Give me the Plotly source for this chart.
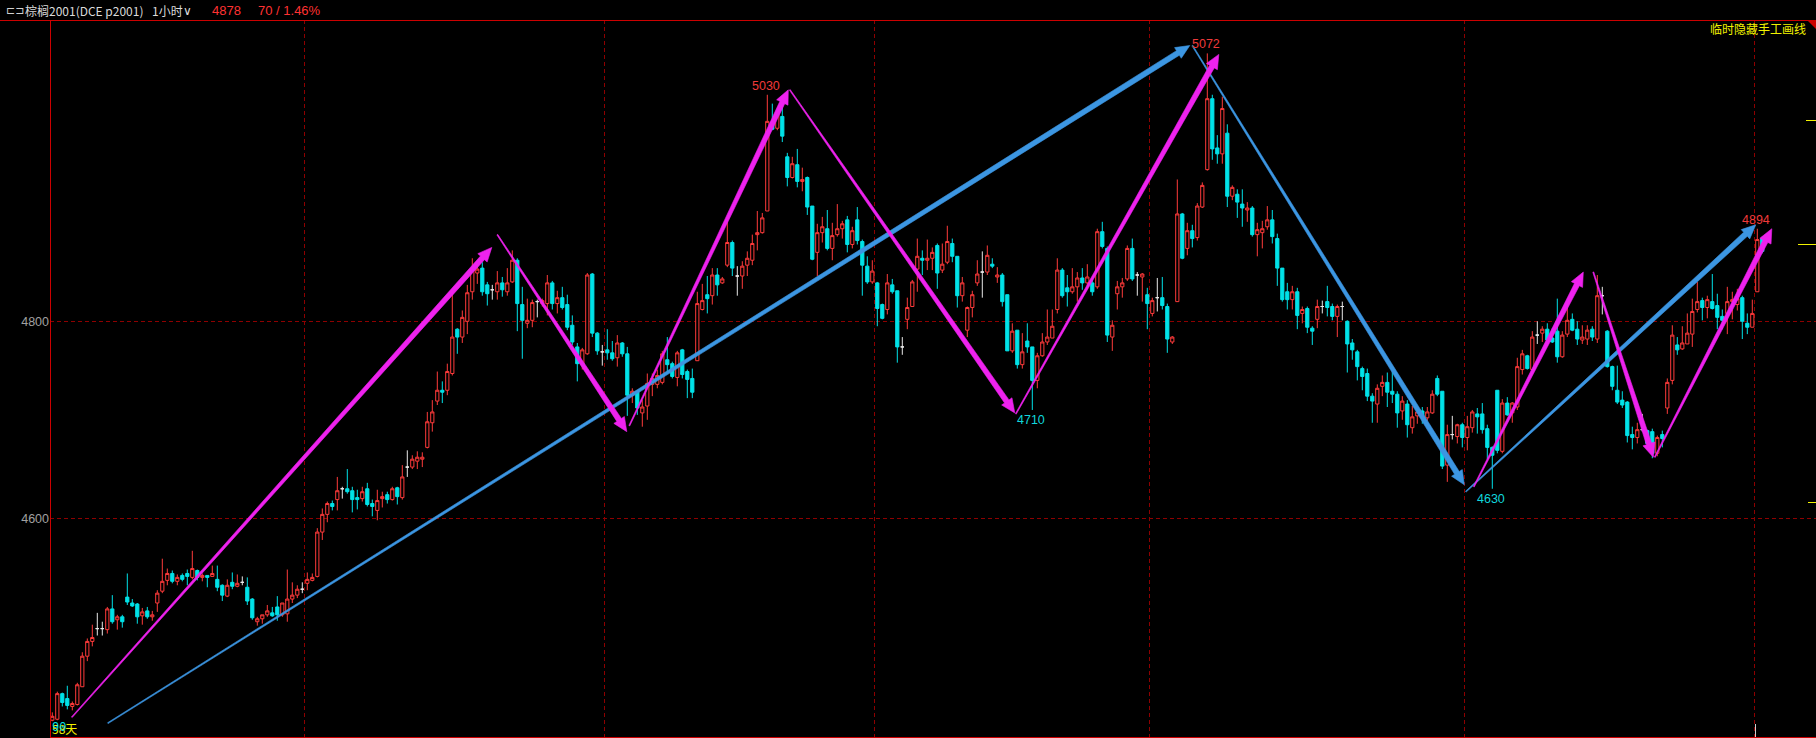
import math
import plotly.graph_objects as go

# ---------------- data ----------------
open_ = [4395,4396,4422,4417,4409,4411,4429,4460,4475,4488,4488,4487,4508,4497,4500,4520,4514,4513,4501,4506,
         4500,4514,4526,4537,4544,4536,4542,4544,4540,4547,4540,4542,4541,4538,4532,4521,4535,4531,4535,4530,
         4518,4495,4498,4502,4504,4510,4502,4503,4518,4522,4528,4534,4537,4541,4586,4604,4615,4619,4630,4630,
         4628,4621,4620,4630,4615,4608,4620,4624,4619,4631,4621,4652,4652,4658,4660,4672,4697,4719,4730,4730,
         4747,4792,4784,4800,4830,4849,4854,4837,4832,4830,4839,4830,4840,4862,4817,4798,4801,4820,4818,4818,
         4839,4818,4824,4817,4796,4774,4756,4767,4848,4788,4769,4771,4768,4763,4778,4767,4725,4729,4707,4714,
         4736,4736,4738,4761,4757,4743,4771,4749,4742,4760,4812,4827,4826,4847,4839,4857,4880,4846,4846,4857,
         4862,4888,4890,4912,5002,4996,5008,4967,4946,4959,4942,4946,4917,4870,4890,4894,4874,4888,4894,4903,
         4878,4903,4881,4856,4840,4839,4817,4812,4837,4831,4774,4802,4815,4853,4864,4862,4864,4877,4852,4860,
         4879,4866,4826,4791,4814,4839,4850,4850,4858,4845,4847,4827,4770,4791,4756,4780,4774,4740,4765,4779,
         4783,4812,4852,4834,4830,4835,4844,4839,4839,4835,4891,4874,4784,4828,4835,4843,4874,4847,4845,4827,
         4808,4824,4824,4815,4779,4820,4909,4874,4892,4885,4916,4954,5026,4976,4970,4991,4927,4929,4919,4913,
         4915,4888,4890,4896,4903,4884,4854,4830,4822,4830,4808,4813,4793,4802,4815,4820,4815,4805,4815,4800,
         4778,4769,4752,4747,4724,4716,4734,4738,4729,4726,4709,4716,4692,4704,4709,4702,4707,4742,4729,4654,
         4685,4683,4695,4682,4692,4706,4706,4691,4672,4730,4668,4717,4707,4713,4751,4765,4751,4786,4788,4792,
         4783,4790,4764,4787,4802,4792,4781,4782,4792,4782,4826,4790,4754,4730,4720,4718,4685,4682,4690,4689,
         4688,4666,4685,4712,4740,4776,4772,4777,4787,4812,4821,4814,4820,4816,4805,4808,4820,4817,4824,4798,
         4794,4830,4884]
high = [4403,4424,4423,4430,4414,4433,4464,4478,4492,4504,4495,4510,4522,4502,4502,4544,4518,4514,4509,4510,
        4506,4527,4559,4549,4547,4543,4544,4548,4567,4548,4544,4542,4552,4552,4533,4538,4545,4543,4541,4540,
        4519,4500,4502,4512,4510,4521,4514,4548,4535,4532,4535,4545,4544,4590,4610,4617,4618,4642,4632,4650,
        4632,4629,4632,4636,4619,4629,4627,4627,4632,4632,4654,4669,4664,4668,4667,4708,4720,4749,4739,4757,
        4828,4793,4811,4837,4864,4861,4860,4840,4837,4851,4845,4854,4872,4864,4835,4823,4822,4822,4823,4847,
        4841,4831,4835,4827,4806,4778,4773,4849,4849,4789,4776,4792,4780,4786,4779,4774,4732,4730,4720,4747,
        4747,4751,4770,4784,4759,4770,4772,4751,4752,4830,4838,4846,4854,4854,4845,4901,4882,4856,4861,4871,
        4888,4912,4910,5030,5021,5015,5018,4971,4967,4975,4956,4947,4917,4899,4906,4913,4900,4919,4902,4907,
        4896,4916,4883,4866,4862,4840,4818,4848,4843,4831,4784,4824,4842,4884,4872,4883,4875,4879,4879,4897,
        4884,4866,4845,4815,4831,4862,4871,4877,4864,4855,4849,4827,4798,4791,4788,4798,4774,4768,4788,4812,
        4812,4864,4854,4847,4854,4850,4854,4858,4842,4894,4901,4876,4801,4841,4844,4877,4884,4850,4849,4834,
        4824,4844,4845,4818,4785,4944,4910,4900,4898,4920,4941,5072,5030,4989,5028,5000,4938,4934,4934,4921,
        4917,4900,4902,4917,4913,4889,4854,4839,4836,4834,4815,4815,4795,4822,4821,4836,4818,4817,4820,4801,
        4782,4771,4754,4752,4727,4736,4745,4748,4749,4729,4724,4720,4714,4712,4713,4713,4730,4745,4729,4695,
        4704,4696,4697,4704,4710,4712,4717,4695,4673,4730,4721,4723,4718,4763,4771,4766,4790,4800,4795,4798,
        4793,4823,4790,4818,4808,4800,4796,4796,4795,4847,4835,4791,4755,4755,4729,4719,4693,4697,4706,4690,
        4691,4684,4689,4742,4796,4784,4795,4808,4823,4840,4824,4826,4848,4828,4812,4835,4830,4833,4826,4808,
        4822,4894,4886]
low = [4394,4395,4409,4406,4405,4410,4429,4455,4470,4481,4481,4483,4493,4487,4489,4512,4510,4493,4492,4498,
       4496,4505,4524,4532,4534,4532,4536,4532,4538,4537,4536,4530,4541,4526,4516,4520,4528,4530,4532,4512,
       4497,4491,4493,4500,4500,4496,4500,4495,4514,4519,4524,4527,4536,4540,4578,4596,4608,4608,4620,4625,
       4606,4609,4617,4612,4602,4598,4611,4615,4618,4614,4619,4642,4650,4650,4652,4671,4688,4715,4717,4725,
       4745,4767,4778,4787,4822,4838,4826,4816,4822,4822,4825,4826,4839,4790,4762,4793,4794,4804,4815,4806,
       4812,4808,4812,4791,4776,4739,4751,4766,4784,4766,4755,4761,4760,4754,4764,4704,4717,4705,4693,4700,
       4724,4732,4736,4747,4742,4734,4742,4722,4722,4760,4811,4808,4817,4826,4838,4855,4846,4826,4833,4846,
       4857,4872,4889,4912,4994,4994,4982,4937,4945,4936,4932,4908,4862,4846,4880,4872,4862,4886,4884,4870,
       4874,4878,4826,4838,4838,4795,4802,4807,4828,4758,4766,4792,4815,4830,4847,4852,4852,4833,4849,4858,
       4860,4814,4820,4784,4804,4836,4824,4847,4854,4839,4815,4770,4768,4752,4752,4768,4710,4732,4764,4776,
       4783,4808,4824,4815,4828,4820,4832,4835,4826,4833,4874,4779,4770,4812,4824,4841,4841,4826,4820,4792,
       4805,4810,4812,4768,4777,4820,4863,4867,4875,4882,4915,4953,4964,4960,4960,4916,4923,4905,4896,4901,
       4886,4866,4874,4893,4879,4836,4820,4812,4812,4792,4798,4788,4776,4793,4808,4805,4801,4784,4801,4748,
       4761,4740,4730,4719,4697,4697,4724,4713,4717,4692,4700,4682,4686,4696,4696,4699,4706,4724,4650,4637,
       4680,4676,4672,4669,4687,4686,4686,4660,4630,4666,4666,4704,4697,4710,4746,4751,4751,4777,4779,4777,
       4778,4758,4763,4784,4790,4776,4777,4776,4780,4778,4807,4753,4730,4716,4712,4677,4670,4676,4688,4670,
       4661,4663,4672,4706,4736,4766,4771,4777,4774,4809,4801,4803,4812,4792,4792,4787,4802,4811,4782,4787,
       4794,4830,4869]
close = [4399,4422,4413,4410,4412,4431,4460,4475,4479,4488,4488,4508,4495,4500,4495,4515,4511,4500,4505,4500,
         4502,4524,4536,4544,4536,4540,4538,4541,4549,4540,4542,4540,4544,4530,4522,4532,4531,4534,4535,4516,
         4499,4498,4502,4506,4501,4502,4514,4518,4522,4528,4528,4538,4540,4586,4604,4615,4612,4628,4630,4627,
         4619,4619,4627,4614,4612,4618,4622,4619,4630,4622,4642,4652,4660,4662,4662,4698,4708,4730,4728,4749,
         4784,4784,4804,4829,4853,4853,4830,4828,4832,4839,4832,4839,4862,4818,4801,4801,4819,4820,4821,4839,
         4818,4824,4814,4794,4779,4757,4771,4847,4788,4770,4769,4768,4762,4778,4767,4725,4729,4712,4713,4737,
         4742,4745,4767,4756,4744,4768,4746,4741,4728,4818,4821,4823,4847,4837,4843,4880,4854,4846,4856,4864,
         4879,4890,4905,5003,4995,5011,4988,4946,4960,4942,4944,4916,4863,4890,4896,4874,4887,4894,4899,4878,
         4892,4882,4857,4840,4851,4813,4803,4839,4830,4774,4774,4814,4840,4866,4862,4864,4870,4849,4858,4881,
         4866,4826,4839,4814,4827,4848,4850,4867,4856,4847,4820,4770,4790,4756,4769,4774,4740,4765,4779,4784,
         4795,4852,4826,4830,4835,4844,4839,4845,4830,4891,4876,4786,4796,4835,4839,4874,4843,4847,4848,4818,
         4821,4824,4816,4782,4784,4909,4864,4892,4884,4917,4938,5026,4975,4970,5016,4927,4936,4921,4915,4915,
         4888,4893,4894,4903,4886,4854,4822,4822,4830,4806,4812,4794,4790,4815,4815,4814,4805,4815,4815,4777,
         4771,4754,4744,4724,4719,4732,4738,4728,4726,4707,4719,4695,4703,4708,4703,4708,4726,4726,4653,4685,
         4685,4695,4682,4693,4708,4703,4690,4672,4664,4669,4717,4705,4717,4754,4767,4752,4784,4786,4792,4781,
         4779,4764,4786,4801,4791,4782,4784,4791,4784,4826,4826,4754,4734,4718,4715,4684,4682,4690,4690,4676,
         4666,4682,4681,4738,4786,4771,4778,4788,4810,4820,4814,4822,4813,4804,4801,4820,4822,4823,4800,4794,
         4808,4883,4871]

# first bar of each new session (vertical dashed separators)
session_starts = [51, 111, 165, 220, 283, 341]
price_ticks = [4600, 4800]

# hand-drawn tapered arrows: (bar0, price0, bar1, price1)
magenta_arrows = [(3.9, 4398, 87.9, 4875), (89.0, 4888, 114.9, 4688), (115.4, 4694, 147.2, 5035),
                  (147.5, 5035, 192.5, 4707), (192.7, 4706, 233.3, 5071), (284.3, 4632, 306.2, 4850),
                  (308.2, 4850, 320.2, 4662), (320.5, 4662, 343.9, 4894)]
blue_arrows = [(11.1, 4392, 227.5, 5080), (228.0, 5080, 282.4, 4634), (282.7, 4627, 340.7, 4898)]

# extreme-price labels: (bar, price, text, kind)
extreme_labels = [(143, 5030, "5030", "hi"), (231, 5072, "5072", "hi"), (341, 4894, "4894", "hi"),
                  (196, 4710, "4710", "lo"), (288, 4630, "4630", "lo")]

# ---------------- styling ----------------
RED = "#FF3B3B"
CYAN = "#00E2E8"
WHITE = "#E8E8E8"
MAG = "#EE22EE"
BLUE = "#3C96E2"
BORDER = "#CC0000"
GRID = "#8E0000"
YEL = "#F2F200"

W, H = 1816, 738
ML, MR, MT, MB = 50, 0, 20, 1
XR = [-0.46, 352.74]
YR = [4377.97, 5105.9]
PW, PH = W - ML - MR, H - MT - MB
sx = PW / (XR[1] - XR[0])
sy = PH / (YR[1] - YR[0])

fig = go.Figure()

idx = list(range(len(open_)))
nd = [i for i in idx if open_[i] != close[i]]
dj = [i for i in idx if open_[i] == close[i]]

fig.add_trace(go.Candlestick(
    x=nd, open=[open_[i] for i in nd], high=[high[i] for i in nd],
    low=[low[i] for i in nd], close=[close[i] for i in nd],
    increasing=dict(line=dict(color=RED, width=1), fillcolor="#000000"),
    decreasing=dict(line=dict(color=CYAN, width=1), fillcolor=CYAN),
    whiskerwidth=0, hoverinfo="skip", showlegend=False))
fig.add_trace(go.Candlestick(
    x=dj, open=[open_[i] for i in dj], high=[high[i] for i in dj],
    low=[low[i] for i in dj], close=[close[i] for i in dj],
    increasing=dict(line=dict(color=WHITE, width=1), fillcolor=WHITE),
    decreasing=dict(line=dict(color=WHITE, width=1), fillcolor=WHITE),
    whiskerwidth=0, hoverinfo="skip", showlegend=False))


def arrow_poly(a, w0=1.0, w1=5.4, hl=14.0, hw=6.3):
    x0, p0, x1, p1 = a
    X0, Y0, X1, Y1 = x0 * sx, -p0 * sy, x1 * sx, -p1 * sy
    dx, dy = X1 - X0, Y1 - Y0
    L = math.hypot(dx, dy)
    ux, uy = dx / L, dy / L
    nx, ny = -uy, ux
    bx, by = X1 - ux * hl, Y1 - uy * hl
    pts = [(X0 + nx * w0 / 2, Y0 + ny * w0 / 2), (bx + nx * w1 / 2, by + ny * w1 / 2),
           (bx + nx * hw, by + ny * hw), (X1, Y1), (bx - nx * hw, by - ny * hw),
           (bx - nx * w1 / 2, by - ny * w1 / 2), (X0 - nx * w0 / 2, Y0 - ny * w0 / 2)]
    pts.append(pts[0])
    return [p[0] / sx for p in pts], [-p[1] / sy for p in pts]


for arrows, col in ((blue_arrows, BLUE), (magenta_arrows, MAG)):
    for a in arrows:
        xs, ys = arrow_poly(a)
        fig.add_trace(go.Scatter(x=xs, y=ys, mode="lines", fill="toself", fillcolor=col,
                                 line=dict(color=col, width=0.6), hoverinfo="skip",
                                 showlegend=False))

anns = []
for b, p, t, kind in extreme_labels:
    if kind == "hi":
        anns.append(dict(x=b, y=p, text=t, showarrow=False, xanchor="center", yanchor="bottom",
                         yshift=0, xshift=-1, font=dict(color="#F03A3A", size=12.5, family="Liberation Sans")))
    else:
        anns.append(dict(x=b, y=p, text=t, showarrow=False, xanchor="center", yanchor="top",
                         yshift=-1, xshift=-1, font=dict(color="#10D6DC", size=12.5, family="Liberation Sans")))


def P(px, py):
    return (px - ML) / PW, (H - MB - py) / PH


def txt(px, py, s, col, size=11.5, anchor="left", fam="Noto Sans CJK SC"):
    x, y = P(px, py)
    anns.append(dict(xref="paper", yref="paper", x=x, y=y, text=s, showarrow=False,
                     xanchor=anchor, yanchor="middle", font=dict(color=col, size=size, family=fam)))


txt(4, 11, "⊏⊐", "#D0D0D0", 11, fam="DejaVu Sans")
txt(23, 11, "棕榈2001(DCE p2001)", "#DADADA", 12)
txt(150, 11, "1小时", "#DADADA", 12)
txt(181, 11, "∨", "#DADADA", 12, fam="DejaVu Sans")
txt(210, 11, "4878", "#FF3232", 13, fam="Liberation Sans")
txt(256, 11, "70 / 1.46%", "#FF3232", 13, fam="Liberation Sans")
txt(1808, 29, "临时隐藏手工画线", YEL, 12, anchor="right")
txt(50, 728, "58天", YEL, 12)
txt(50, 728, "90", CYAN, 12, fam="Liberation Mono")

shapes = []


def pline(x0, y0, x1, y1, col, w=1):
    a0, b0 = P(x0, y0)
    a1, b1 = P(x1, y1)
    shapes.append(dict(type="line", xref="paper", yref="paper", x0=a0, y0=b0, x1=a1, y1=b1,
                       line=dict(color=col, width=w), layer="above"))


pline(0, 20.5, W, 20.5, BORDER)
pline(50.5, 20, 50.5, 738, BORDER)
pline(50, 737.5, W, 737.5, BORDER)
pline(1806, 120.5, W, 120.5, YEL)
pline(1798, 244.5, W, 244.5, YEL)
pline(1808, 502.5, W, 502.5, YEL)
pline(1755.5, 724, 1755.5, 737, "#CFCFCF")
t0 = P(1807, 20)
t1 = P(W, 20)
t2 = P(W, 29)
shapes.append(dict(type="path", xref="paper", yref="paper",
                   path=f"M {t0[0]} {t0[1]} L {t1[0]} {t1[1]} L {t2[0]} {t2[1]} Z",
                   fillcolor=BORDER, line=dict(width=0), layer="above"))

fig.update_layout(
    width=W, height=H, margin=dict(l=ML, r=MR, t=MT, b=MB, pad=0),
    paper_bgcolor="#000000", plot_bgcolor="#000000", showlegend=False,
    annotations=anns, shapes=shapes, boxgap=0.2, boxgroupgap=0.2,
    xaxis=dict(range=XR, rangeslider=dict(visible=False), showticklabels=False, ticks="",
               tickvals=[s - 0.5 for s in session_starts], showgrid=True, gridcolor=GRID,
               griddash="4px,3px", gridwidth=1, zeroline=False, showline=False, fixedrange=True),
    yaxis=dict(range=YR, tickvals=price_ticks, ticktext=[str(v) for v in price_ticks],
               showgrid=True, gridcolor=GRID, griddash="4px,3px", gridwidth=1, ticks="",
               tickfont=dict(color="#A0A0A0", size=12.5, family="Liberation Sans"),
               zeroline=False, showline=False, fixedrange=True),
)

fig.write_html("out.html", config={"displayModeBar": False},
               post_script="document.body.style.margin='0px';document.body.style.background='#000';")
